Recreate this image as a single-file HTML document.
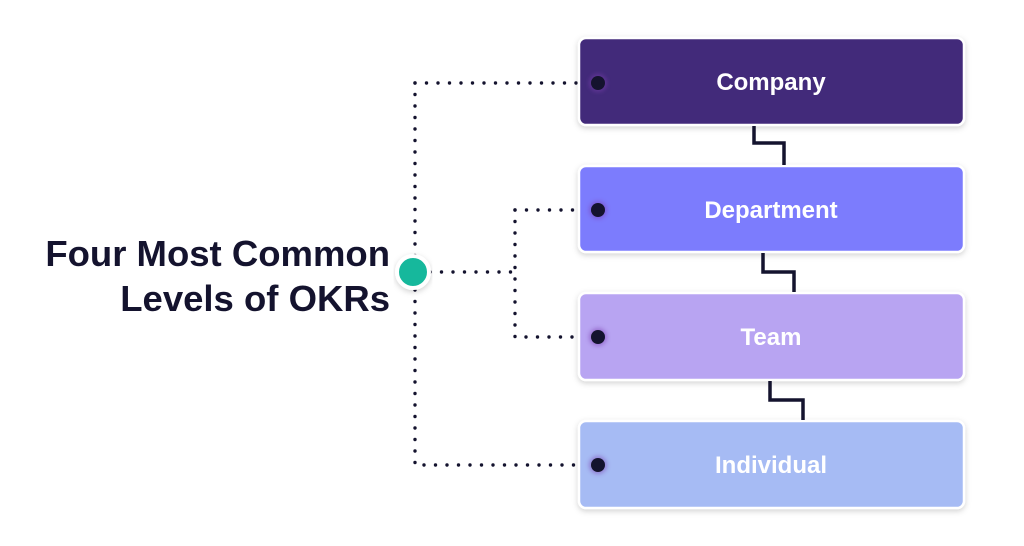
<!DOCTYPE html>
<html><head><meta charset="utf-8"><style>
html,body{margin:0;padding:0;background:#fff;width:1024px;height:546px;overflow:hidden}
</style></head><body>
<svg width="1024" height="546" viewBox="0 0 1024 546" xmlns="http://www.w3.org/2000/svg" font-family="Liberation Sans, sans-serif">
<defs>
<filter id="sh" x="-10%" y="-20%" width="120%" height="150%"><feDropShadow dx="0" dy="2" stdDeviation="3" flood-color="#000" flood-opacity="0.18"/></filter>
<filter id="gl" x="-100%" y="-100%" width="300%" height="300%"><feGaussianBlur stdDeviation="2"/></filter>
</defs>
<g fill="none" stroke="#14132e" stroke-width="3.4" stroke-linecap="round" stroke-dasharray="0 11.5">
<path d="M415 83 H598"/>
<path d="M415 83 V465 H598"/>
<path d="M430 272 H515"/>
<path d="M515 210 H598"/>
<path d="M515 210 V337 H598"/>
</g>
<g filter="url(#sh)" stroke="#fff" stroke-width="2.5">
<rect x="579" y="38" width="385" height="87" rx="7" fill="#42297a"/>
<rect x="579" y="166" width="385" height="86" rx="7" fill="#7b7bfd"/>
<rect x="579" y="293" width="385" height="87" rx="7" fill="#b8a4f2"/>
<rect x="579" y="421" width="385" height="87" rx="7" fill="#a6bbf4"/>
</g>
<g fill="none" stroke="#14132e" stroke-width="3.5">
<path d="M754 126 V143 H784 V165"/>
<path d="M763 253 V272 H794 V292"/>
<path d="M770 381 V400 H803 V420"/>
</g>
<g>
<circle cx="598" cy="83" r="9" fill="#7b3fb0" opacity="0.5" filter="url(#gl)"/>
<circle cx="598" cy="210" r="9" fill="#7b3fb0" opacity="0.5" filter="url(#gl)"/>
<circle cx="598" cy="337" r="9" fill="#7b3fb0" opacity="0.5" filter="url(#gl)"/>
<circle cx="598" cy="465" r="9" fill="#7b3fb0" opacity="0.5" filter="url(#gl)"/>
<circle cx="598" cy="83" r="7" fill="#14132e"/>
<circle cx="598" cy="210" r="7" fill="#14132e"/>
<circle cx="598" cy="337" r="7" fill="#14132e"/>
<circle cx="598" cy="465" r="7" fill="#14132e"/>
</g>
<circle cx="413" cy="272" r="16" fill="#16b89c" stroke="#fff" stroke-width="4" filter="url(#sh)"/>
<g fill="#fff" font-weight="bold" font-size="24" text-anchor="middle">
<text x="771" y="90">Company</text>
<text x="771" y="218">Department</text>
<text x="771" y="345">Team</text>
<text x="771" y="473">Individual</text>
</g>
<g fill="#14132e" font-weight="bold" font-size="36.5" text-anchor="end">
<text x="390" y="266">Four Most Common</text>
<text x="390" y="311">Levels of OKRs</text>
</g>
</svg>
</body></html>
